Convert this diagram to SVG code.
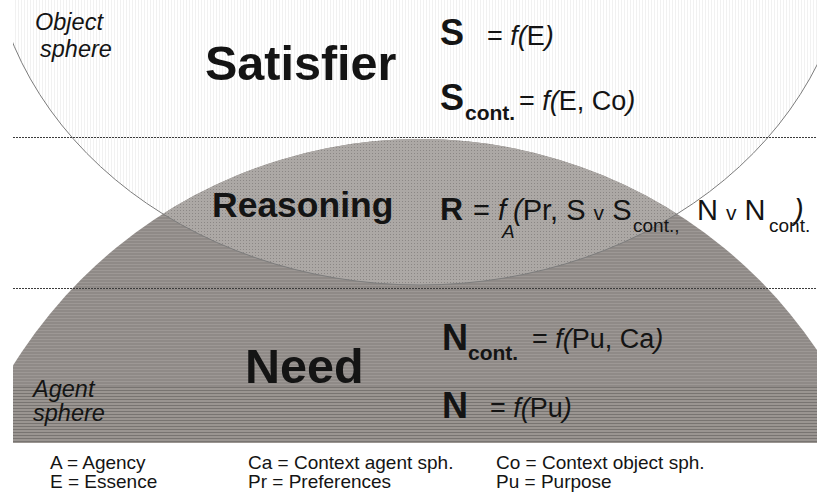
<svg xmlns="http://www.w3.org/2000/svg" width="817" height="497" viewBox="0 0 817 497">
  <style>
    text { font-family: "Liberation Sans", Arial, sans-serif; fill: #141414; }
    .title { font-weight: bold; font-size: 48.5px; }
    .mid { font-weight: bold; font-size: 35.5px; }
    .sym { font-weight: bold; font-size: 36px; }
    .symr { font-weight: bold; font-size: 32px; }
    .subb { font-weight: bold; font-size: 21px; }
    .eq { font-size: 27px; }
    .eqr { font-size: 29px; }
    .sub { font-size: 19px; }
    .it { font-style: italic; }
    .sphere { font-style: italic; font-size: 23.5px; }
    .legend { font-size: 19px; }
    .divider { stroke: #3c3c3c; stroke-width: 1; stroke-dasharray: 2 1; fill: none; }
    .outline { fill: none; stroke: #7c7c7c; stroke-width: 1; }
  </style>
  <defs>
    <!-- faint vertical hatching of the object sphere -->
    <pattern id="vlines" patternUnits="userSpaceOnUse" width="3" height="3">
      <rect width="3" height="3" fill="#ffffff"/>
      <rect width="1" height="3" fill="#f1f1f1"/>
    </pattern>
    <!-- horizontal hatching of the agent sphere -->
    <pattern id="hlines" patternUnits="userSpaceOnUse" width="3" height="3">
      <rect width="3" height="3" fill="#8f8a87"/>
      <rect width="3" height="1" fill="#9d9895"/>
    </pattern>
    <!-- stronger hatching along the bottom band -->
    <pattern id="hlinesDark" patternUnits="userSpaceOnUse" width="3" height="3">
      <rect width="3" height="3" fill="#9a9591"/>
      <rect width="3" height="1" fill="#787471"/>
    </pattern>
    <!-- dot grid where both spheres overlap -->
    <pattern id="dots" patternUnits="userSpaceOnUse" width="3" height="3">
      <rect width="3" height="3" fill="#aca8a5"/>
      <rect width="1" height="1" fill="#8b8785"/>
    </pattern>
    <clipPath id="frame">
      <rect x="13" y="0" width="804" height="443"/>
    </clipPath>
    <clipPath id="agentClip">
      <circle cx="420" cy="618" r="479"/>
    </clipPath>
  </defs>

  <rect width="817" height="497" fill="#ffffff"/>

  <g id="spheres" clip-path="url(#frame)">
    <g id="object-sphere">
      <ellipse cx="420" cy="-75" rx="431" ry="360" fill="url(#vlines)"/>
    </g>
    <g id="agent-sphere">
      <circle cx="420" cy="618" r="479" fill="url(#hlines)"/>
      <rect x="13" y="387" width="804" height="56" fill="url(#hlinesDark)" clip-path="url(#agentClip)"/>
    </g>
    <g id="overlap">
      <ellipse cx="420" cy="-75" rx="431" ry="360" fill="url(#dots)" clip-path="url(#agentClip)"/>
    </g>
    <ellipse class="outline" cx="420" cy="-75" rx="431" ry="360"/>
  </g>

  <g id="connectors">
    <line class="divider" x1="13" y1="137.5" x2="817" y2="137.5"/>
    <line class="divider" x1="13" y1="288.5" x2="817" y2="288.5"/>
  </g>

  <g id="object-label">
    <text class="sphere" x="35" y="30">Object</text>
    <text class="sphere" x="40" y="57">sphere</text>
  </g>

  <g id="agent-label">
    <text class="sphere" x="33" y="397">Agent</text>
    <text class="sphere" x="33" y="421">sphere</text>
  </g>

  <g id="satisfier">
    <text class="title" x="205" y="80">Satisfier</text>
    <text class="sym" x="440" y="45">S</text>
    <text class="eq" x="487" y="45">= <tspan class="it">f(</tspan>E<tspan class="it">)</tspan></text>
    <text class="sym" x="440" y="110">S</text>
    <text class="subb" x="465" y="120">cont.</text>
    <text class="eq" x="519" y="110">= <tspan class="it">f(</tspan>E, Co<tspan class="it">)</tspan></text>
  </g>

  <g id="reasoning">
    <text class="mid" x="212" y="217">Reasoning</text>
    <text class="symr" x="440" y="220">R</text>
    <text class="eqr" x="473" y="220">= <tspan class="it">f</tspan></text>
    <text class="sub it" x="502" y="238">A</text>
    <text class="eqr" x="513" y="220"><tspan class="it">(</tspan>Pr, S <tspan font-size="21">v</tspan> S</text>
    <text class="sub" x="633" y="232">cont.,</text>
    <text class="eqr" x="697" y="220">N <tspan font-size="21">v</tspan> N</text>
    <text class="sub" x="769" y="232">cont.</text>
    <text class="eqr it" x="794" y="220">)</text>
  </g>

  <g id="need">
    <text class="title" x="245" y="383">Need</text>
    <text class="sym" x="442" y="350">N</text>
    <text class="subb" x="468" y="360">cont.</text>
    <text class="eq" x="532" y="348">= <tspan class="it">f(</tspan>Pu, Ca<tspan class="it">)</tspan></text>
    <text class="sym" x="442" y="418">N</text>
    <text class="eq" x="490" y="417">= <tspan class="it">f(</tspan>Pu<tspan class="it">)</tspan></text>
  </g>

  <g id="legend">
    <text class="legend" x="50" y="469">A = Agency</text>
    <text class="legend" x="50" y="488">E = Essence</text>
    <text class="legend" x="248" y="469">Ca = Context agent sph.</text>
    <text class="legend" x="248" y="488">Pr = Preferences</text>
    <text class="legend" x="496" y="469">Co = Context object sph.</text>
    <text class="legend" x="496" y="488">Pu = Purpose</text>
  </g>
</svg>
